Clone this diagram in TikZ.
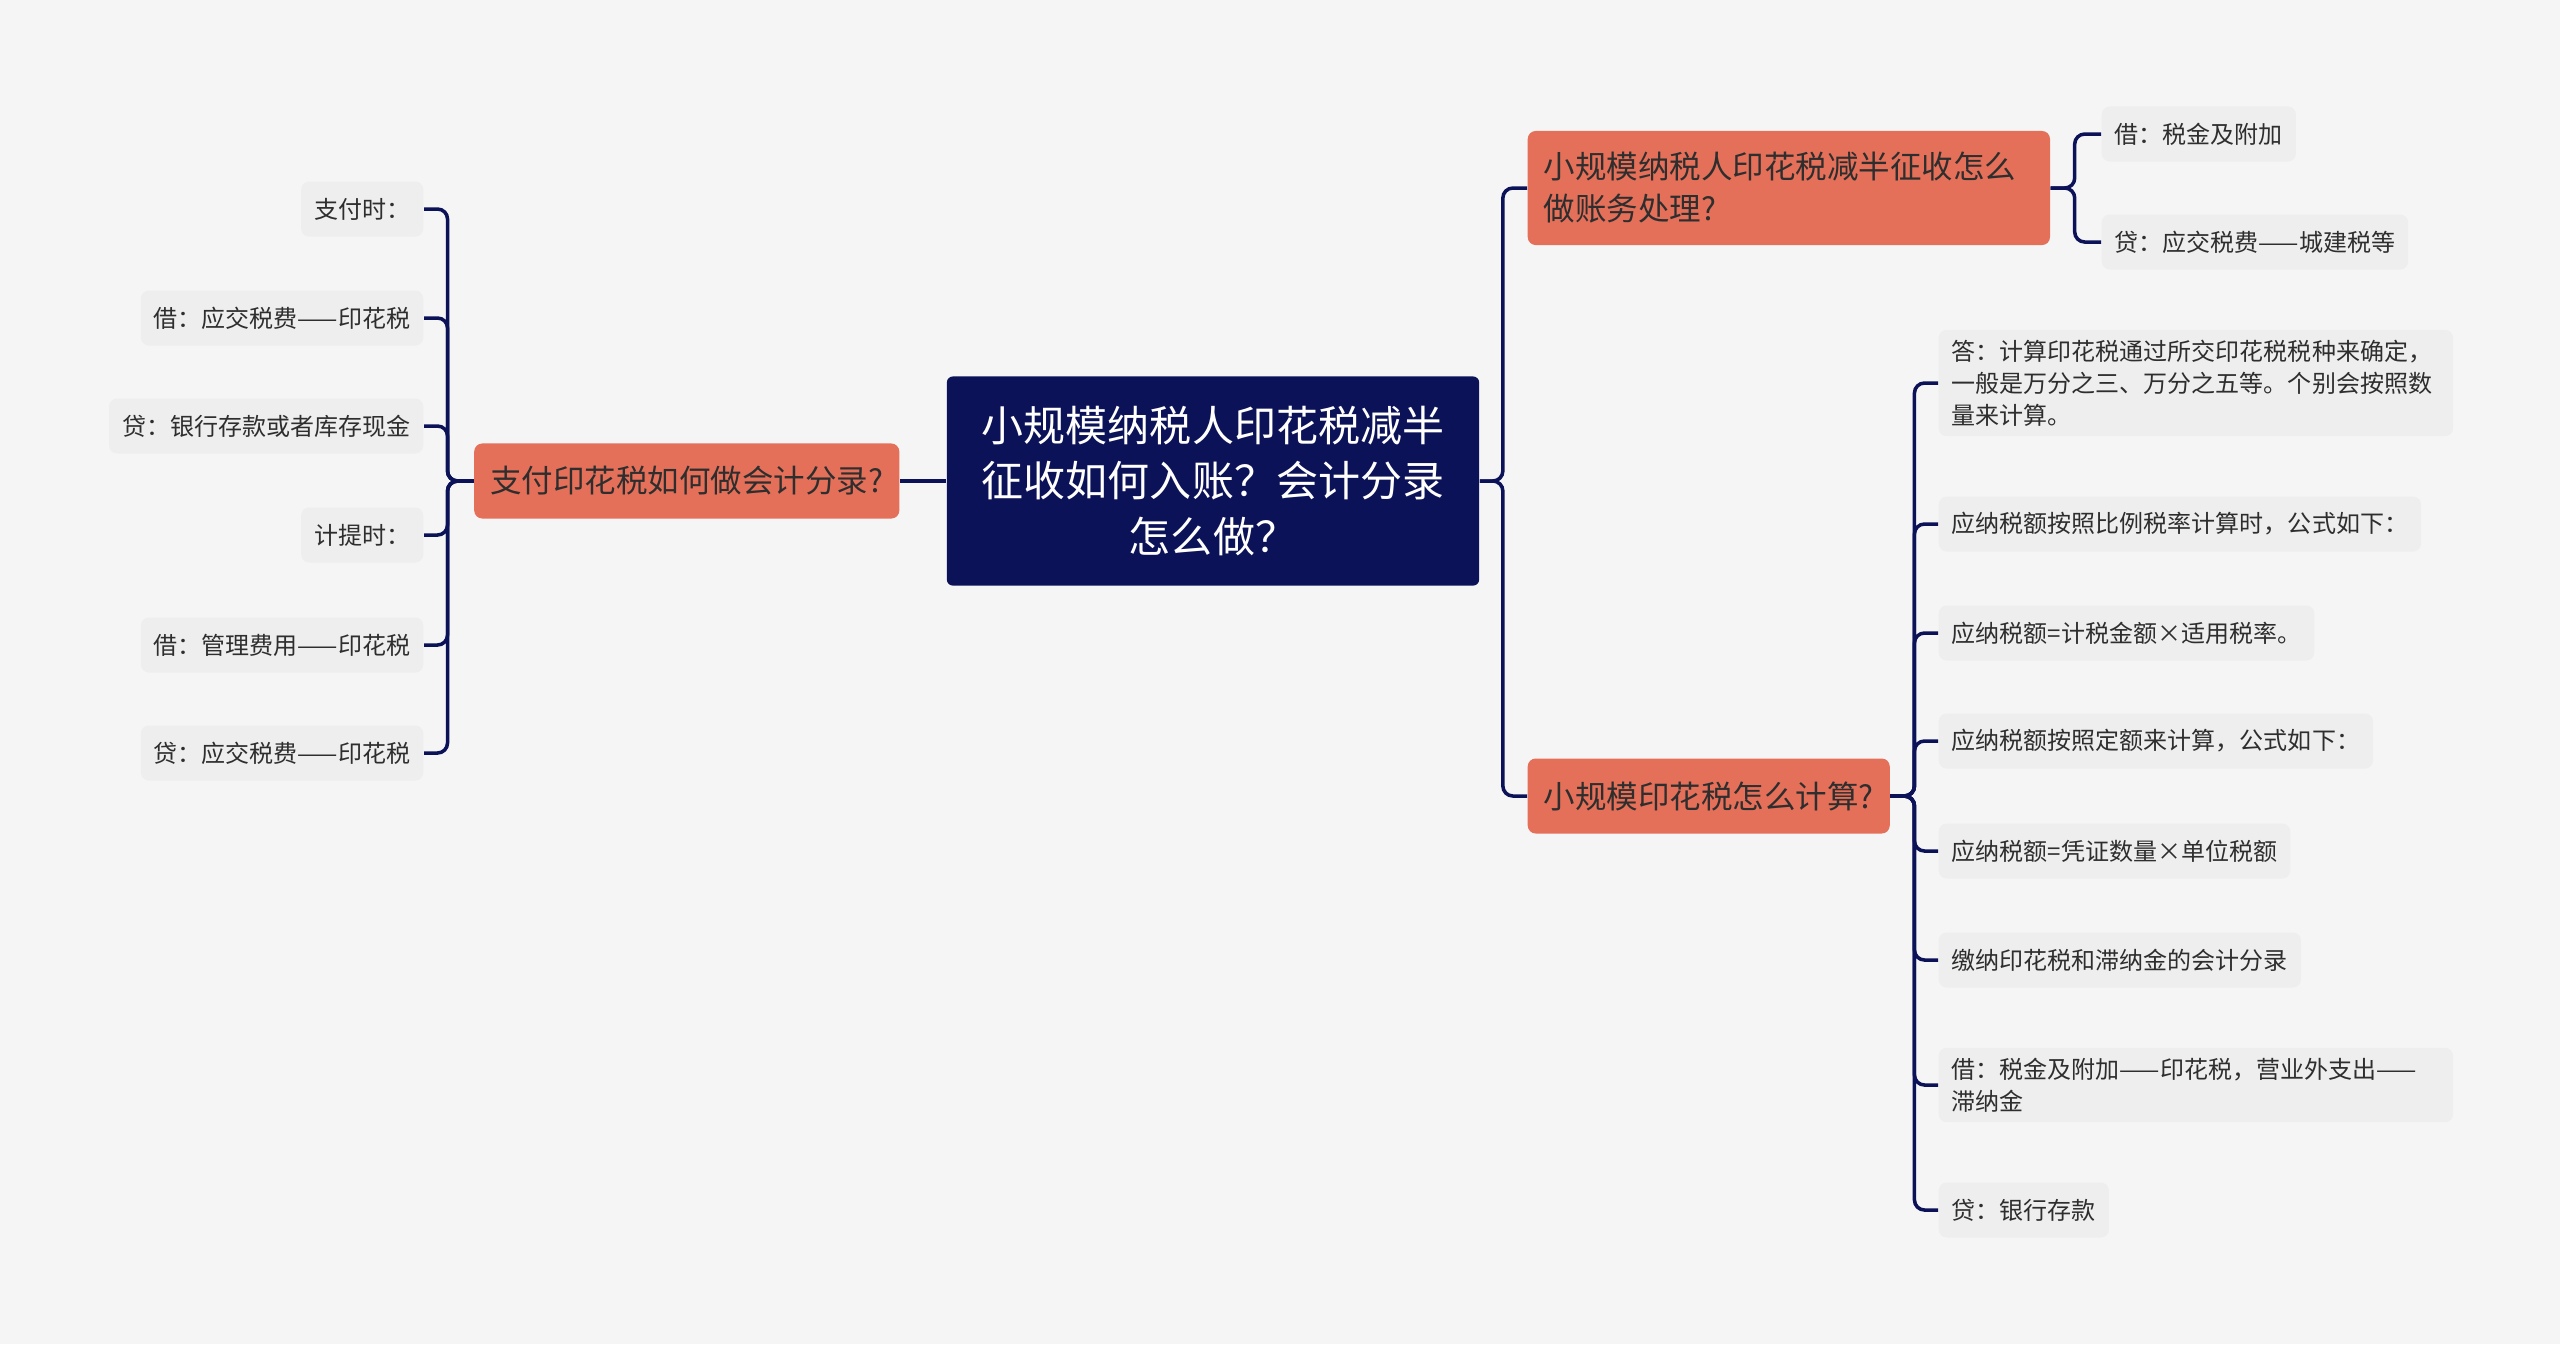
\documentclass[tikz,border=0pt]{standalone}
\usepackage{fontspec}
\setmainfont{Noto Sans CJK SC}
\usepackage{tikz}
\usetikzlibrary{positioning,calc}
\definecolor{MapNavy}{HTML}{0C1257}
\definecolor{MapCoral}{HTML}{E5705A}
\definecolor{MapLeaf}{HTML}{EEEEEE}
\definecolor{MapBack}{HTML}{F5F5F5}
\definecolor{MapInk}{HTML}{2E2E2E}

\begin{document}
\begin{tikzpicture}[x=0.01cm,y=-0.01cm,
  rootbox/.style={fill=MapNavy,text=white,rounded corners=0.06cm,align=center,
    minimum width=5.32cm,minimum height=2.09cm,font=\fontsize{11.95pt}{15.9pt}\selectfont},
  topic/.style={fill=MapCoral,text=MapInk,rounded corners=0.08cm,inner xsep=0.16cm,
    minimum height=0.75cm,font=\fontsize{8.96pt}{11.95pt}\selectfont},
  leaf/.style={fill=MapLeaf,text=MapInk,rounded corners=0.08cm,inner xsep=0.13cm,
    minimum height=0.55cm,font=\fontsize{6.83pt}{9.1pt}\selectfont},
  link/.style={draw=MapNavy,line width=1pt,rounded corners=0.1cm}]
\fill[MapBack] (0,0) rectangle (2560,1344);
\useasboundingbox (0,0) rectangle (2560,1344);

% centre and main topics
\node[rootbox] (root) at (1213,481) {小规模纳税人印花税减半\\征收如何入账？会计分录\\怎么做？};
\node[topic,anchor=east] (pay) at (900,481) {支付印花税如何做会计分录?};
\node[topic,anchor=west,text width=4.9cm,align=left,minimum height=1.14cm] (half) at (1527,188) {小规模纳税人印花税减半征收怎么\\做账务处理?};
\node[topic,anchor=west] (calc) at (1527,796) {小规模印花税怎么计算?};

% left side
\node[leaf,anchor=east] (pay1) at (424,209) {支付时：};
\node[leaf,anchor=east] (pay2) at (424,318) {借：应交税费——印花税};
\node[leaf,anchor=east] (pay3) at (424,426) {贷：银行存款或者库存现金};
\node[leaf,anchor=east] (pay4) at (424,535) {计提时：};
\node[leaf,anchor=east] (pay5) at (424,645) {借：管理费用——印花税};
\node[leaf,anchor=east] (pay6) at (424,753) {贷：应交税费——印花税};

% right side, upper
\node[leaf,anchor=west] (half1) at (2101,134) {借：税金及附加};
\node[leaf,anchor=west] (half2) at (2101,242) {贷：应交税费——城建税等};

% right side, lower
\node[leaf,anchor=west,align=left,text width=4.88cm,inner ysep=0.1cm] (calc1) at (1938,383) {答：计算印花税通过所交印花税税种来确定，\\一般是万分之三、万分之五等。个别会按照数\\量来计算。};
\node[leaf,anchor=west] (calc2) at (1938,524) {应纳税额按照比例税率计算时，公式如下：};
\node[leaf,anchor=west] (calc3) at (1938,633) {应纳税额=计税金额×适用税率。};
\node[leaf,anchor=west] (calc4) at (1938,741) {应纳税额按照定额来计算，公式如下：};
\node[leaf,anchor=west] (calc5) at (1938,851) {应纳税额=凭证数量×单位税额};
\node[leaf,anchor=west] (calc6) at (1938,960) {缴纳印花税和滞纳金的会计分录};
\node[leaf,anchor=west,align=left,text width=4.88cm,inner ysep=0.1cm] (calc7) at (1938,1085) {借：税金及附加——印花税，营业外支出——\\滞纳金};
\node[leaf,anchor=west] (calc8) at (1938,1210) {贷：银行存款};

% connectors
\draw[link] (root.west) -- (pay.east);
\draw[link] (root.east) -- ++(23,0) |- (half.west);
\draw[link] (root.east) -- ++(23,0) |- (calc.west);
\foreach \k in {1,...,6}
  \draw[link] (pay.west) -- ++(-26,0) |- (pay\k.east);
\foreach \k in {1,2}
  \draw[link] (half.east) -- ++(24,0) |- (half\k.west);
\foreach \k in {1,...,8}
  \draw[link] (calc.east) -- ++(24,0) |- (calc\k.west);
\end{tikzpicture}
\end{document}
